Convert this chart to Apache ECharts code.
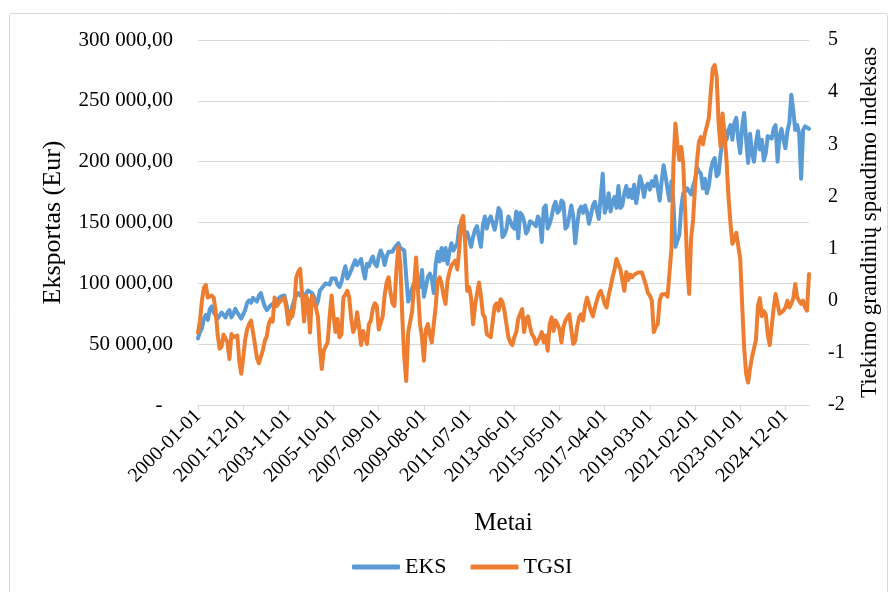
<!DOCTYPE html>
<html>
<head>
<meta charset="utf-8">
<script src="https://cdn.jsdelivr.net/npm/echarts@6/dist/echarts.min.js"></script>
<style>
  html, body { margin: 0; padding: 0; background: #fff; }
  #chart { width: 895px; height: 592px; }
</style>
</head>
<body>
<div id="chart"></div>
<script>
// monthly categories 2000-01-01 ... 2025-12-01
const months = [];
for (let y = 2000; y <= 2025; y++) {
  for (let m = 1; m <= 12; m++) {
    months.push(`${y}-${String(m).padStart(2, "0")}-01`);
  }
}

// EKS, eksportas (Eur), one row per year
const eks = [
  54800, 60000, 63000, 71000, 74000, 70000, 79000, 81000, 76000, 75000, 71000, 70000,
  76000, 74000, 72000, 76000, 78000, 72000, 75000, 79000, 76000, 75000, 71000, 70000,
  78000, 84000, 86000, 84000, 88000, 89000, 85000, 90000, 92000, 86000, 81000, 78000,
  79000, 82000, 81000, 84000, 86000, 86000, 89000, 88000, 90000, 89000, 75000, 71000,
  81000, 86000, 90000, 92000, 90000, 92000, 89000, 90000, 94000, 93000, 92000, 89000,
  81000, 85000, 94000, 96000, 97000, 100000, 101000, 99000, 104000, 103000, 104000, 99000,
  97000, 101000, 108000, 114000, 104000, 107000, 111000, 115000, 119000, 115000, 116000, 120000,
  111000, 104000, 116000, 114000, 119000, 122000, 116000, 114000, 122000, 127000, 123000, 115000,
  122000, 126000, 127000, 126000, 129000, 131000, 133000, 129000, 130000, 127000, 105000, 85000,
  86000, 96000, 100000, 101000, 105000, 97000, 111000, 89000, 88000, 105000, 108000, 104000,
  92000, 116000, 126000, 118000, 129000, 119000, 129000, 116000, 126000, 133000, 127000, 130000,
  133000, 147000, 149000, 147000, 138000, 142000, 136000, 130000, 138000, 144000, 147000, 138000,
  130000, 148000, 155000, 145000, 152000, 155000, 156000, 144000, 152000, 162000, 159000, 138000,
  140000, 145000, 155000, 151000, 147000, 145000, 159000, 137000, 158000, 156000, 151000, 141000,
  144000, 151000, 152000, 149000, 147000, 155000, 152000, 134000, 162000, 164000, 145000, 149000,
  155000, 163000, 167000, 158000, 160000, 168000, 166000, 145000, 147000, 155000, 164000, 155000,
  133000, 148000, 160000, 163000, 158000, 164000, 159000, 149000, 156000, 164000, 167000, 168000,
  153000, 152000, 190000, 158000, 163000, 174000, 159000, 167000, 171000, 162000, 180000, 162000,
  164000, 174000, 180000, 171000, 177000, 170000, 181000, 166000, 175000, 188000, 182000, 171000,
  180000, 182000, 177000, 184000, 180000, 188000, 189000, 168000, 184000, 197000, 188000, 177000,
  168000, 184000, 166000, 130000, 129000, 140000, 163000, 174000, 175000, 178000, 177000, 173000,
  180000, 185000, 195000, 192000, 190000, 178000, 186000, 174000, 180000, 193000, 200000, 203000,
  188000, 190000, 206000, 218000, 226000, 218000, 226000, 230000, 218000, 232000, 236000, 218000,
  207000, 229000, 240000, 218000, 199000, 223000, 207000, 200000, 215000, 225000, 210000, 218000,
  201000, 207000, 221000, 222000, 219000, 227000, 230000, 200000, 221000, 227000, 218000, 211000,
  225000, 232000, 255000, 242000, 226000, 230000, 223000, 186000, 226000, 229000, 229000, 227000
];

// TGSI, tiekimo grandinių spaudimo indeksas
const tgsi = [
  -0.61, -0.38, 0.0, 0.25, 0.3, 0.06, 0.08, 0.1, 0.06, -0.2, -0.65, -0.92,
  -0.88, -0.65, -0.62, -0.8, -1.12, -0.64, -0.7, -0.72, -0.67, -1.15, -1.4, -1.1,
  -0.75, -0.55, -0.45, -0.38, -0.6, -0.85, -1.1, -1.2, -1.22, -0.95, -0.77, -0.68,
  -0.45, -0.35, -0.4, 0.06, -0.1, -0.08, 0.0, 0.02, 0.06, -0.15, -0.45, -0.2,
  -0.3, -0.1, 0.45, 0.55, 0.61, 0.6, -0.4, 0.1, 0.0, -0.61, 0.1, -0.02,
  -0.13, -0.3, -0.9, -1.31, -0.96, -0.93, -0.8, -0.3, 0.1, -0.3, -0.6, -0.35,
  -0.7, -0.65, 0.06, 0.12, 0.19, 0.06, -0.35, -0.6, -0.5, -0.22, -0.5, -0.85,
  -0.58, -0.7, -0.83, -0.45, -0.38, -0.15, -0.05, -0.1, -0.55, -0.55, -0.3, 0.1,
  0.35, 0.45, 0.15, -0.05, -0.1, 0.6, 1.03, 0.7, -0.32, -1.09, -1.54, -0.6,
  -0.4, -0.2, 0.3, 0.83, 0.19, -0.45, -0.7, -1.15, -0.55, -0.45, -0.65, -0.8,
  -0.45, -0.1, 0.38, 0.45, 0.32, 0.1, -0.06, 0.38, 0.55, 0.68, 0.72, 0.77,
  0.6, 1.0, 1.54, 1.63, 1.09, 0.19, 0.26, 0.06, -0.45, -0.1, 0.13, 0.35,
  0.1, -0.26, -0.32, -0.64, -0.67, -0.7, -0.4, -0.1, -0.05, -0.19, 0.03, -0.03,
  -0.2, -0.45, -0.7, -0.8, -0.85, -0.7, -0.6, -0.35, -0.25, -0.16, -0.6, -0.35,
  -0.3, -0.5, -0.65, -0.7, -0.83, -0.8, -0.7, -0.6, -0.8, -0.67, -0.96, -0.45,
  -0.32, -0.58, -0.38, -0.45, -0.55, -0.8, -0.5, -0.38, -0.32, -0.26, -0.55, -0.83,
  -0.77, -0.5, -0.32, -0.26, -0.38, -0.1, 0.06, 0.06, -0.2, -0.3, -0.13, -0.15,
  0.13, 0.19, 0.08, -0.06, -0.13, 0.1, 0.26, 0.45, 0.6, 0.8, 0.77, 0.6,
  0.4, 0.19, 0.55, 0.4, 0.5, 0.45, 0.5, 0.52, 0.54, 0.51, 0.54, 0.52,
  0.3, 0.15, 0.1, 0.0, -0.6, -0.5, -0.45, 0.0, 0.12, 0.13, 0.13, 0.08,
  0.06, 1.0, 2.63, 3.4, 3.0, 2.7, 2.95, 2.6, 1.7, 0.7, 0.13, 1.2,
  1.55, 2.2, 2.69, 3.05, 3.14, 3.0, 3.2, 3.35, 3.5, 4.0, 4.45, 4.52,
  4.3, 3.4, 2.95, 3.59, 3.2, 2.7, 2.0, 1.5, 1.09, 1.1, 1.3, 1.3,
  0.8, -0.1, -0.9, -1.4, -1.57, -1.3, -1.08, -1.09, -0.75, -0.1, 0.05, -0.3,
  -0.2, -0.26, -0.64, -0.85, -0.5, -0.15, 0.13, 0.15, -0.25, -0.26, -0.19, -0.13,
  0.0, -0.13, -0.06, 0.05, 0.32, 0.06, 0.0, -0.06, 0.0, -0.13, -0.19, 0.51
];

const FONT = "'Liberation Serif', 'DejaVu Serif', serif";
const TEXT = "#000";
const GRID_LINE = "#d9d9d9";

function formatEur(value) {
  if (value === 0) return "-  ";
  return String(value).replace(/\B(?=(\d{3})+(?!\d))/g, " ") + ",00";
}

const chart = echarts.init(document.getElementById("chart"), undefined, { renderer: "canvas" });

chart.setOption({
  animation: false,
  backgroundColor: "#fff",
  textStyle: { fontFamily: FONT, color: TEXT },
  graphic: [
    {
      type: "rect",
      shape: { x: 9.5, y: 13.5, width: 878, height: 600, r: 2 },
      style: { fill: "none", stroke: GRID_LINE, lineWidth: 1 },
      silent: true,
    },
  ],
  grid: { left: 198, right: 86, top: 40, bottom: 187 },
  legend: {
    bottom: 9,
    left: 347,
    icon: "roundRect",
    itemWidth: 48,
    itemHeight: 5,
    itemGap: 24,
    textStyle: { fontFamily: FONT, fontSize: 22, color: TEXT, padding: [0, 0, 0, 0] },
    data: ["EKS", "TGSI"],
  },
  xAxis: {
    type: "category",
    data: months,
    boundaryGap: false,
    name: "Metai",
    nameLocation: "middle",
    nameGap: 106,
    nameTextStyle: { fontFamily: FONT, fontSize: 25, color: TEXT },
    axisLine: { lineStyle: { color: GRID_LINE, width: 1 } },
    axisTick: { show: true, interval: 22, length: 6, lineStyle: { color: GRID_LINE } },
    axisLabel: {
      interval: 22,
      rotate: 45,
      margin: 8,
      fontFamily: FONT,
      fontSize: 20,
      color: TEXT,
    },
    splitLine: { show: false },
  },
  yAxis: [
    {
      type: "value",
      min: 0,
      max: 300000,
      interval: 50000,
      name: "Eksportas (Eur)",
      nameLocation: "middle",
      nameRotate: 90,
      nameGap: 132,
      nameTextStyle: { fontFamily: FONT, fontSize: 26, color: TEXT },
      axisLine: { show: false },
      axisTick: { show: false },
      axisLabel: {
        margin: 25,
        fontFamily: FONT,
        fontSize: 21,
        color: TEXT,
        formatter: formatEur,
      },
      splitLine: { show: true, lineStyle: { color: GRID_LINE, width: 1 } },
    },
    {
      type: "value",
      min: -2,
      max: 5,
      interval: 1,
      position: "right",
      name: "Tiekimo grandinių spaudimo indeksas",
      nameLocation: "middle",
      nameRotate: 90,
      nameGap: 49,
      nameTextStyle: { fontFamily: FONT, fontSize: 23, color: TEXT },
      axisLine: { show: false },
      axisTick: { show: false },
      axisLabel: {
        margin: 19,
        fontFamily: FONT,
        fontSize: 20,
        color: TEXT,
      },
      splitLine: { show: false },
    },
  ],
  series: [
    {
      name: "EKS",
      type: "line",
      yAxisIndex: 0,
      data: eks,
      showSymbol: false,
      symbol: "none",
      lineStyle: { width: 4, color: "#5b9bd5", join: "round", cap: "round" },
      itemStyle: { color: "#5b9bd5" },
    },
    {
      name: "TGSI",
      type: "line",
      yAxisIndex: 1,
      data: tgsi,
      showSymbol: false,
      symbol: "none",
      lineStyle: { width: 4, color: "#ed7d31", join: "round", cap: "round" },
      itemStyle: { color: "#ed7d31" },
    },
  ],
});
</script>
</body>
</html>
